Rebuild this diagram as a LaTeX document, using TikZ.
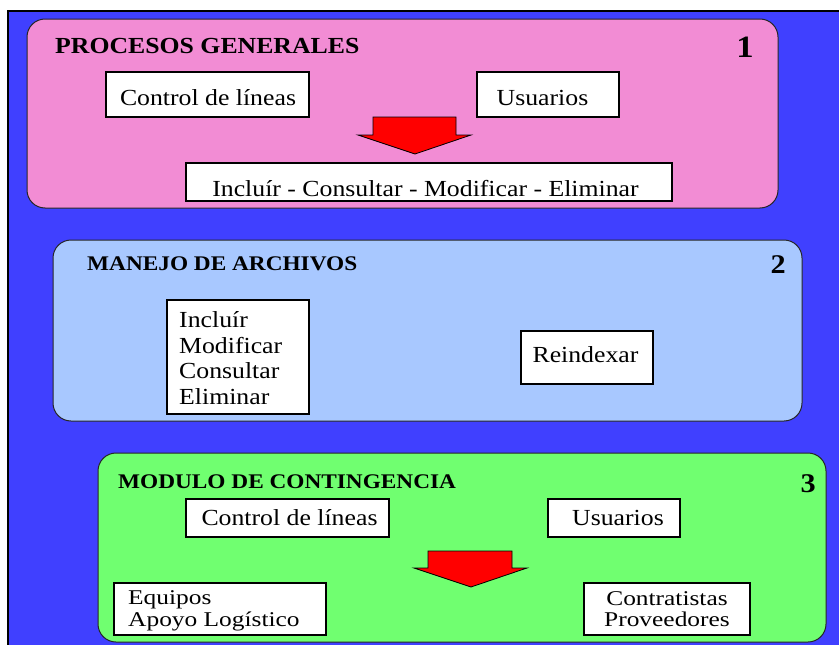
\documentclass[tikz,border=0pt]{standalone}
\usepackage{fontspec}
\setmainfont[FakeStretch=1.12]{Liberation Serif}
\newfontfamily\widefont[FakeStretch=1.21]{Liberation Serif}
\definecolor{bgblue}{RGB}{64,64,255}
\definecolor{pinkp}{RGB}{242,140,212}
\definecolor{bluep}{RGB}{168,200,255}
\definecolor{greenp}{RGB}{112,255,112}
\begin{document}
\begin{tikzpicture}[x=1pt,y=-1pt,
  panel/.style={draw=black!85, line width=1pt, rounded corners=18pt},
  wbox/.style={draw=black, line width=1.3pt, fill=white, inner sep=0pt},
  txt/.style={font=\fontsize{23}{25.5}\selectfont, inner sep=0pt},
  txtb/.style={font=\widefont\fontsize{21}{21.5}\selectfont, inner sep=0pt},
  ttlA/.style={font=\bfseries\fontsize{23}{26}\selectfont, anchor=base west, inner sep=0pt},
  ttlB/.style={font=\bfseries\fontsize{20.8}{24}\selectfont, anchor=base west, inner sep=0pt},
  numA/.style={font=\bfseries\fontsize{31}{34}\selectfont, anchor=base east, inner sep=0pt},
  numB/.style={font=\bfseries\fontsize{27}{30}\selectfont, anchor=base east, inner sep=0pt},
  blockarrow/.style={fill=red, draw=black, line width=0.8pt, line join=miter}
]
\useasboundingbox (0,0) rectangle (839,645);
\fill[white] (0,0) rectangle (839,645);
\filldraw[fill=bgblue, draw=black, line width=2pt] (8,11) rectangle (850,655);

% Panel 1
\draw[panel, fill=pinkp] (27,19) rectangle (778,208);
\node[ttlA] (t1) at (55,53) {PROCESOS GENERALES};
\node[numA] (n1) at (754,57) {1};
\node[wbox, minimum width=203pt, minimum height=45pt] (b1a) at (207.5,94.5) {};
\node[txt, anchor=base] (b1at) at (208,105) {Control de líneas};
\node[wbox, minimum width=142pt, minimum height=45pt] (b1b) at (548,94.5) {};
\node[txt, anchor=base] (b1bt) at (542.5,105) {Usuarios};
\filldraw[blockarrow] (373,117) -- (456,117) -- (456,135) -- (471,135) -- (415,154) -- (358,135) -- (373,135) -- cycle;
\node[wbox, minimum width=486pt, minimum height=38pt] (b1c) at (429,182) {};
\node[txt, anchor=base] (b1ct) at (425.5,196) {Incluír - Consultar - Modificar - Eliminar};

% Panel 2
\draw[panel, fill=bluep] (53,240) rectangle (802,421);
\node[ttlB] (t2) at (87,270) {MANEJO DE ARCHIVOS};
\node[numB] (n2) at (786,273) {2};
\node[wbox, minimum width=142pt, minimum height=114pt] (b2a) at (238,357) {};
\node[txt, anchor=west, align=left] (b2at) at (179,358) {Incluír\\Modificar\\Consultar\\Eliminar};
\node[wbox, minimum width=132pt, minimum height=53pt] (b2b) at (587,357.5) {};
\node[txt, anchor=base] (b2bt) at (585.5,362.5) {Reindexar};

% Panel 3
\draw[panel, fill=greenp] (98,453) rectangle (826,642);
\node[ttlB] (t3) at (118,488) {MODULO DE CONTINGENCIA};
\node[numB] (n3) at (816,492) {3};
\node[wbox, minimum width=203pt, minimum height=38pt] (b3a) at (287.5,518) {};
\node[txt, anchor=base] (b3at) at (289.5,525) {Control de líneas};
\node[wbox, minimum width=132pt, minimum height=38pt] (b3b) at (614,518) {};
\node[txt, anchor=base] (b3bt) at (618,525) {Usuarios};
\filldraw[blockarrow] (428,551) -- (512,551) -- (512,568) -- (527,568) -- (471,587) -- (414,568) -- (428,568) -- cycle;
\node[wbox, minimum width=212pt, minimum height=52pt] (b3c) at (220,609) {};
\node[txtb, anchor=west, align=left] (b3ct) at (128,611) {Equipos\\Apoyo Logístico};
\node[wbox, minimum width=166pt, minimum height=52pt] (b3d) at (667,609) {};
\node[txtb, align=center] (b3dt) at (667,609) {Contratistas\\Proveedores};
\end{tikzpicture}
\end{document}
